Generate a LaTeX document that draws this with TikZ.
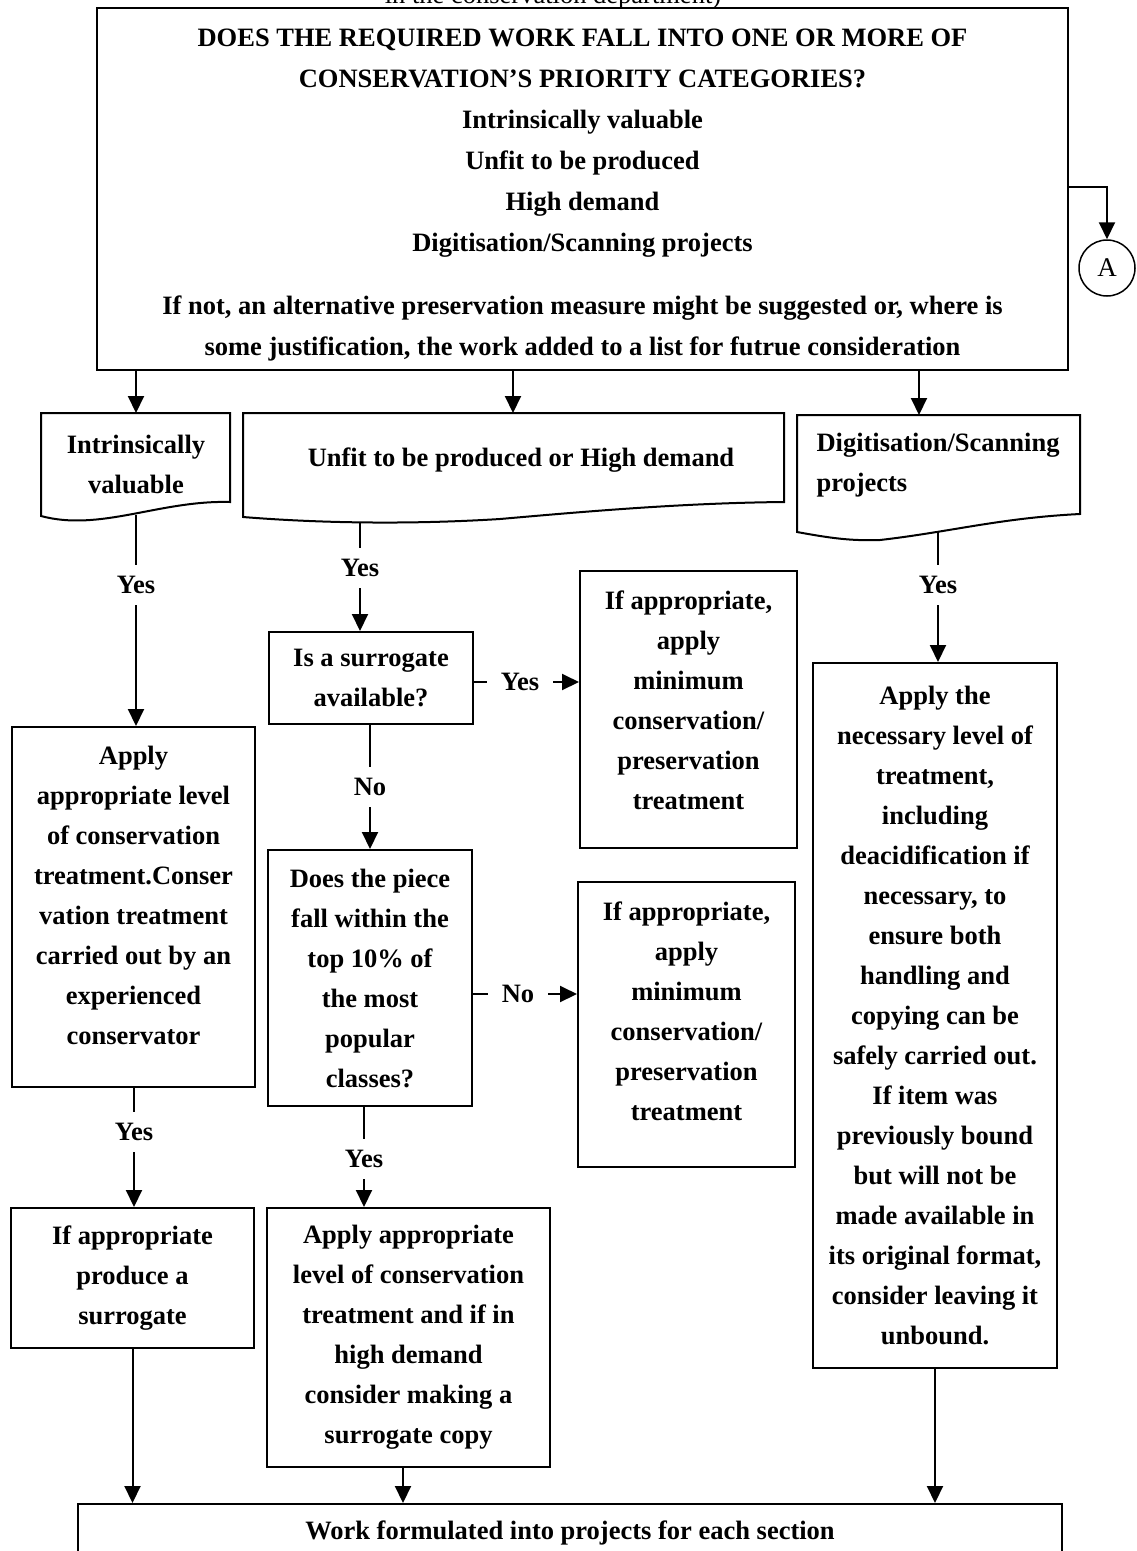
\documentclass[tikz,border=0pt]{standalone}
\usepackage{fontspec}
\setmainfont{Liberation Serif}
\usetikzlibrary{arrows.meta, positioning, calc}

\begin{document}
\begin{tikzpicture}[
    % Global settings: one unit is one pixel of the sheet, y grows downwards
    x=1pt, y=-1pt,
    >={Triangle[length=17pt, width=16pt]},
    font=\fontsize{26.5}{40}\selectfont\bfseries,
    % Process boxes
    box/.style = {
        rectangle,
        draw,
        line width=2pt,
        align=center,
        inner sep=0pt
    },
    % Document shapes (wavy bottom)
    doc/.style = {draw, line width=2pt},
    doctext/.style = {align=center},
    % Yes / No answers on the lines
    answer/.style = {inner xsep=14pt, inner ysep=11pt},
    % Lines
    connection/.style = {draw, line width=2pt},
    flow/.style = {draw, ->, line width=2pt}
]
    \useasboundingbox (0,0) rectangle (1136,1551);

    % --- NODES ---

    % Line cut off at the top of the page
    \node [anchor=base, font=\fontsize{26.5}{40}\selectfont\mdseries] (dept) at (553,3) {in the conservation department)};

    % 1. Main question
    \node [box, minimum width=971pt, minimum height=362pt, font=\fontsize{26.5}{41}\selectfont\bfseries] (top) at (582.5,189)
        {\rule{0pt}{0pt}\\[-11pt]
         DOES THE REQUIRED WORK FALL INTO ONE OR MORE OF\\
         CONSERVATION'S PRIORITY CATEGORIES?\\
         Intrinsically valuable\\
         Unfit to be produced\\
         High demand\\
         Digitisation/Scanning projects\\[22pt]
         If not, an alternative preservation measure might be suggested or, where is\\
         some justification, the work added to a list for futrue consideration};

    % Connector A
    \node [circle, draw, line width=1.5pt, minimum size=56pt, inner sep=0pt, font=\fontsize{27}{40}\selectfont\mdseries] (A) at (1107,268) {A};
    \coordinate (a-out) at (1068,187);

    % 2. The three categories
    \draw [doc] (230,502) -- (230,413) -- (41,413) -- (41,516)
        .. controls (100,532) and (160,500) .. (230,502) -- cycle;
    \node [doctext] (iv) at (136,464) {Intrinsically\\valuable};
    \coordinate (iv-t) at (136,413);
    \coordinate (iv-b) at (136,515);

    \draw [doc] (784,502) -- (784,413) -- (243,413) -- (243,517)
        .. controls (330,524) and (420,524) .. (500,519)
        .. controls (580,512) and (680,503) .. (784,502) -- cycle;
    \node [doctext] (ufhd) at (521,460) {Unfit to be produced or High demand};
    \coordinate (ufhd-t) at (513,413);
    \coordinate (ufhd-b) at (360,522);

    \draw [doc] (1080,514) -- (1080,415) -- (797,415) -- (797,532)
        .. controls (830,538) and (850,541) .. (880,540)
        .. controls (950,532) and (1000,518) .. (1080,514) -- cycle;
    \node [anchor=west, align=left] (dsp) at (813,465) {Digitisation/Scanning\\projects};
    \coordinate (dsp-t) at (919,415);
    \coordinate (dsp-b) at (938,532);

    % 3. Left column
    \node [box, minimum width=243pt, minimum height=360pt, text depth=24pt] (apply) at (133.5,907)
        {Apply\\appropriate level\\of conservation\\treatment.Conser\\vation treatment\\carried out by an\\experienced\\conservator};
    \node [box, minimum width=243pt, minimum height=140pt] (lsur) at (132.5,1278)
        {If appropriate\\produce a\\surrogate};

    % 4. Middle column
    \node [box, minimum width=204pt, minimum height=92pt] (sur) at (371,678)
        {Is a surrogate\\available?};
    \node [box, minimum width=204pt, minimum height=256pt] (does) at (370,978)
        {Does the piece\\fall within the\\top 10\% of\\the most\\popular\\classes?};
    \node [box, minimum width=283pt, minimum height=259pt] (acopy) at (408.5,1337.5)
        {Apply appropriate\\level of conservation\\treatment and if in\\high demand\\consider making a\\surrogate copy};

    % Minimum treatment boxes
    \node [box, minimum width=217pt, minimum height=277pt, text depth=18pt] (min1) at (688.5,709.5)
        {If appropriate,\\apply\\minimum\\conservation/\\preservation\\treatment};
    \node [box, minimum width=217pt, minimum height=285pt, text depth=26pt] (min2) at (686.5,1024.5)
        {If appropriate,\\apply\\minimum\\conservation/\\preservation\\treatment};

    % 5. Right column
    \node [box, minimum width=244pt, minimum height=705pt] (rb) at (935,1015.5)
        {Apply the\\necessary level of\\treatment,\\including\\deacidification if\\necessary, to\\ensure both\\handling and\\copying can be\\safely carried out.\\If item was\\previously bound\\but will not be\\made available in\\its original format,\\consider leaving it\\unbound.};

    % 6. Final box (runs off the page)
    \node [box, minimum width=984pt, minimum height=58pt] (fin) at (570,1533)
        {Work formulated into projects for each section};

    % Answers
    \node [answer] (yes1) at (136,585) {Yes};
    \node [answer] (yes2) at (360,568) {Yes};
    \node [answer] (yes3) at (938,585) {Yes};
    \node [answer] (yes4) at (520,682) {Yes};
    \node [answer] (no1) at (370,787) {No};
    \node [answer] (no2) at (518,994) {No};
    \node [answer] (yes5) at (134,1132) {Yes};
    \node [answer] (yes6) at (364,1159) {Yes};

    % --- CONNECTIONS ---

    % Main question to A
    \draw [flow] (top.east |- a-out) -| (A.north);

    % Main question to the categories
    \draw [flow] (top.south -| iv-t) -- (iv-t);
    \draw [flow] (top.south -| ufhd-t) -- (ufhd-t);
    \draw [flow] (top.south -| dsp-t) -- (dsp-t);

    % Intrinsically valuable
    \draw [connection] (iv-b) -- (yes1);
    \draw [flow] (yes1) -- (yes1 |- apply.north);
    \draw [connection] (apply.south -| yes5) -- (yes5);
    \draw [flow] (yes5) -- (yes5 |- lsur.north);

    % Unfit to be produced or High demand
    \draw [connection] (ufhd-b) -- (yes2);
    \draw [flow] (yes2) -- (yes2 |- sur.north);
    \draw [connection] (sur.east |- yes4) -- (yes4);
    \draw [flow] (yes4) -- (yes4 -| min1.west);
    \draw [connection] (sur.south -| no1) -- (no1);
    \draw [flow] (no1) -- (no1 |- does.north);
    \draw [connection] (does.east |- no2) -- (no2);
    \draw [flow] (no2) -- (no2 -| min2.west);
    \draw [connection] (does.south -| yes6) -- (yes6);
    \draw [flow] (yes6) -- (yes6 |- acopy.north);

    % Digitisation/Scanning projects
    \draw [connection] (dsp-b) -- (yes3);
    \draw [flow] (yes3) -- (yes3 |- rb.north);

    % Down to the final box
    \draw [flow] (lsur.south) -- (lsur.south |- fin.north);
    \draw [flow] (acopy.south -| 403,0) -- (fin.north -| 403,0);
    \draw [flow] (rb.south) -- (rb.south |- fin.north);

\end{tikzpicture}
\end{document}
